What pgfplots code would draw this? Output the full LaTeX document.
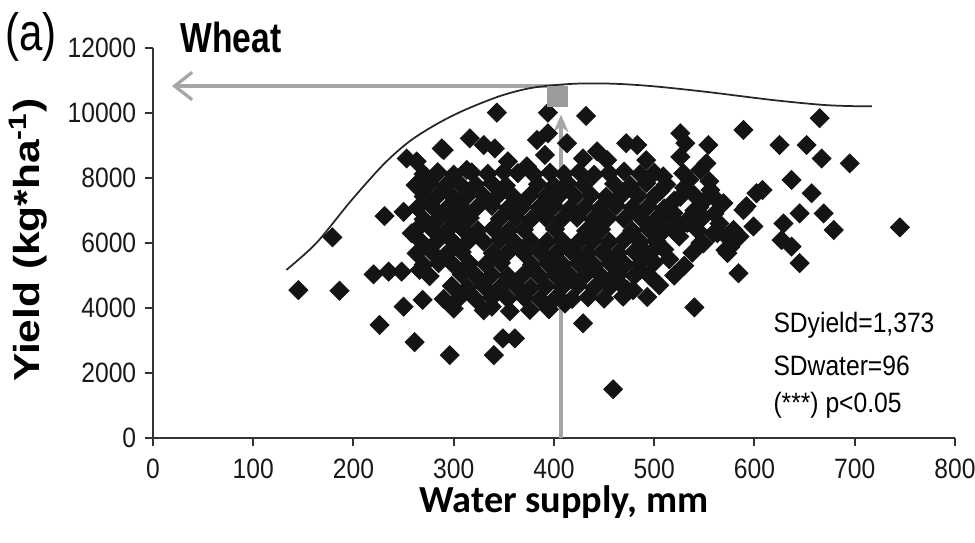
\documentclass[border=0pt]{standalone}
\usepackage{fontspec}
\usepackage{graphicx}
\usepackage{pgfplots}
\usepackage{pgfplotstable}
\pgfplotsset{compat=1.18}
\usetikzlibrary{arrows.meta}
\setmainfont{Liberation Sans}
\newfontfamily\tickfont[FakeStretch=0.88]{Liberation Sans}
\newfontfamily\titlefont[FakeStretch=0.8]{Liberation Sans}
\newfontfamily\xlabfont{Carlito}
\definecolor{arrowgray}{HTML}{A6A6A6}
\definecolor{sqgray}{HTML}{9C9C9C}
\definecolor{dotblack}{HTML}{141414}

\pgfplotstableread{
x y
145 4550
186 4530
179 6175
220 5035
235 5120
248 5120
231 6830
250 6960
258 6300
253 8600
263 8510
288 8910
265 7790
281 8060
250 4040
226 3480
261 2950
296 2550
340 2550
349 3065
361 3065
429 3530
459 1500
338 4040
411 4140
376 3940
343 10010
394 10010
432 9910
316 9220
330 9015
341 8910
383 9170
394 9375
413 9070
391 8710
472 9070
483 9015
354 8510
373 8360
313 8250
290 8860
429 8600
443 8820
453 8550
665 9840
589 9480
625 9015
652 9015
667 8600
695 8450
637 7940
657 7530
645 6910
669 6910
679 6400
745 6480
629 6600
627 6090
637 5890
645 5380
584 5070
540 4020
526 9375
531 9070
554 9015
602 7530
592 7130
599 6510
585 6200
579 6090
569 7225
559 7430
572 6200
571 5785
549 5990
509 8050
529 8145
546 8250
552 8450
492 8550
489 5785
486 5170
479 4550
469 4350
266 5170
269 4250
519 6400
533 6710
546 6000
563 6300
576 5880
579 6400
493 4340
473 4550
456 4860
608 7630
549 6800
543 6400
526 7420
519 6920
523 6400
533 6620
556 7630
573 5690
526 8650
506 7600
520 7300
515 6900
530 7700
540 7000
525 6200
510 5800
500 5400
515 5500
495 5000
505 4700
589 7015
559 6300
555 7900
560 6900
565 6600
535 7950
550 7300
538 5700
530 5300
520 5000
270 8120
284 8180
300 8100
318 8170
334 8130
350 8190
364 8150
380 8110
396 8160
410 8120
425 8180
440 8100
455 8150
470 8200
486 8120
500 8160
262 7780
276 7830
292 7760
306 7820
322 7790
338 7840
352 7770
384 7810
400 7760
414 7830
430 7790
460 7820
476 7770
492 7840
512 7800
270 7430
285 7480
299 7420
314 7470
330 7440
345 7490
360 7410
376 7460
392 7430
406 7480
421 7440
437 7470
452 7420
468 7490
484 7450
500 7430
540 7470
264 7080
278 7130
293 7060
308 7110
323 7090
338 7140
354 7070
369 7120
385 7090
400 7130
416 7070
431 7110
446 7080
462 7140
478 7090
494 7120
510 7060
545 7100
270 6730
286 6780
301 6720
316 6770
346 6740
362 6790
377 6720
392 6770
408 6740
423 6780
439 6720
454 6770
470 6740
486 6790
502 6730
518 6760
262 6380
278 6430
293 6370
309 6420
324 6390
339 6440
355 6380
370 6410
401 6430
432 6370
447 6420
478 6380
494 6430
510 6390
268 6030
284 6080
300 6020
315 6070
330 6040
346 6090
361 6020
377 6060
393 6040
408 6080
424 6020
439 6070
455 6040
470 6090
486 6030
502 6060
263 5680
278 5730
293 5670
308 5720
339 5690
355 5740
370 5680
386 5720
402 5690
417 5740
433 5670
448 5720
464 5690
480 5730
496 5680
270 5330
285 5380
300 5320
316 5370
332 5340
347 5390
378 5330
394 5370
409 5340
424 5380
440 5320
456 5370
471 5340
487 5390
276 4980
308 5030
323 4970
338 5020
354 4990
370 5040
386 4980
401 5020
416 4990
432 5030
448 4970
464 5020
480 4990
298 4680
314 4620
330 4670
346 4630
362 4680
377 4620
392 4670
408 4640
424 4690
440 4620
456 4660
470 4630
290 4280
306 4330
322 4270
338 4320
354 4290
370 4330
386 4270
402 4320
418 4280
434 4330
450 4290
300 3980
330 3930
395 3960
356 3900
}\scatterdata

\begin{document}
\begin{tikzpicture}
\path[use as bounding box] (-61.2pt,-41.6pt) rectangle (328.8pt,175.2pt);
\begin{axis}[
  at={(0pt,0pt)}, anchor=south west,
  scale only axis, width=320.8pt, height=156pt,
  xmin=0, xmax=800, ymin=0, ymax=12000,
  axis lines*=left,
  axis line style={black!80, line width=0.9pt},
  tick align=outside, major tick length=3.2pt,
  tick style={black!80, line width=0.8pt},
  xtick={0,100,...,800}, ytick={0,2000,...,12000},
  scaled ticks=false,
  /pgf/number format/1000 sep={},
  /pgf/number format/assume math mode=true,
  tick label style={font=\tickfont\fontsize{11.2pt}{13pt}\selectfont, text=black!90},
  xticklabel style={yshift=-1.5pt},
  clip=false,
]
\addplot[only marks, mark=square*, mark size=2.65pt, color=dotblack,
  mark options={rotate=45, fill=dotblack, draw=dotblack}] table[x=x, y=y] {\scatterdata};
\addplot[arrowgray, line width=1.4pt, -{Stealth[length=7pt,width=6pt]}]
  coordinates {(407,0) (407,9950)};
\addplot[only marks, mark=square*, mark size=4pt, color=sqgray]
  coordinates {(403,10520)};
\addplot[arrowgray, line width=1.3pt, -{Straight Barb[length=7pt,width=11pt]}]
  coordinates {(410,10830) (19,10830)};
\addplot[black!85, line width=0.7pt, smooth] coordinates {
  (133,5170) (163,6000) (197,7280) (230,8420) (256,9130) (283,9660)
  (310,10080) (346,10520) (379,10780) (420,10900) (460,10900) (500,10820)
  (552,10650) (618,10400) (668,10250) (700,10210) (717,10210)};
\end{axis}
\node[anchor=base west, inner sep=0, font=\titlefont\fontsize{21pt}{23pt}\selectfont] at (-59.2pt,154.8pt) {(a)};
\node[anchor=base west, inner sep=0, font=\titlefont\bfseries\fontsize{16.8pt}{18pt}\selectfont] at (10.8pt,154pt) {Wheat};
\node[rotate=90, inner sep=0, font=\bfseries\fontsize{17pt}{19pt}\selectfont] at (-50pt,79.2pt) {\scalebox{1}[0.85]{Yield (kg*ha\textsuperscript{-1})}};
\node[anchor=base, inner sep=0, font=\xlabfont\bfseries\fontsize{15.3pt}{17pt}\selectfont] at (164.4pt,-29.6pt) {Water supply, mm};
\node[anchor=base west, inner sep=0, font=\tickfont\fontsize{11.2pt}{13pt}\selectfont] at (248pt,42pt) {SDyield=1,373};
\node[anchor=base west, inner sep=0, font=\tickfont\fontsize{11.2pt}{13pt}\selectfont] at (248pt,25.2pt) {SDwater=96};
\node[anchor=base west, inner sep=0, font=\tickfont\fontsize{11.2pt}{13pt}\selectfont] at (248pt,10.4pt) {(***) p<0.05};
\end{tikzpicture}
\end{document}
